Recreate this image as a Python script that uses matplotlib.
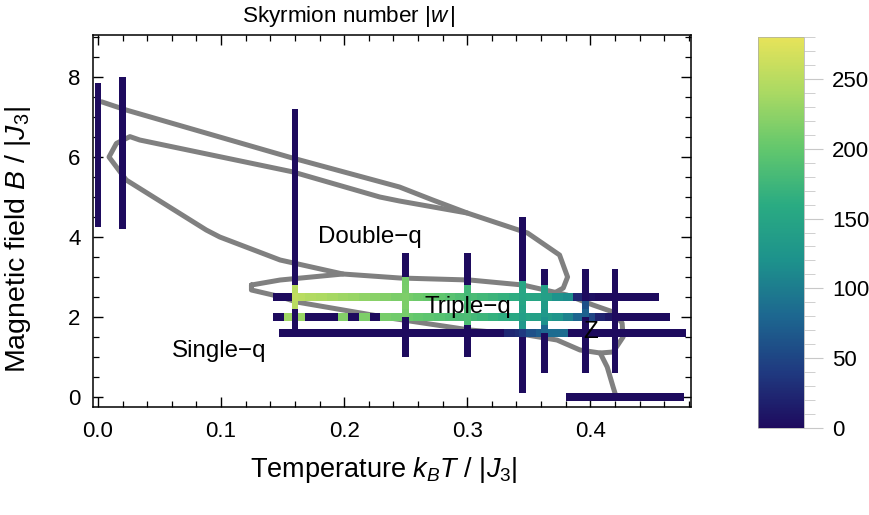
import numpy as np
import matplotlib
matplotlib.use("Agg")
import matplotlib.pyplot as plt
from matplotlib.colors import LinearSegmentedColormap, Normalize
from matplotlib.cm import ScalarMappable
from matplotlib.ticker import MultipleLocator, FormatStrFormatter

plt.rcParams['font.family'] = ['Liberation Sans', 'DejaVu Sans']
plt.rcParams['mathtext.fontset'] = 'custom'
plt.rcParams['mathtext.rm'] = 'Liberation Sans'
plt.rcParams['mathtext.it'] = 'Liberation Sans:italic'

# --- horizontal scans: fixed field B, temperature steps of dT ---
dT = 0.0087
row_B = [2.5, 2.0, 1.6, 0.0]
row_T0 = [0.1425, 0.1425, 0.147, 0.380]
row_w = [
    [0, 0, 250, 246, 242, 238, 234, 230, 226, 222, 218, 214, 210, 206, 202, 198,
     193, 188, 183, 178, 173, 168, 162, 156, 150, 140, 122, 115, 25, 5,
     0, 0, 0, 0, 0, 0],
    [0, 235, 230, 0, 0, 0, 218, 0, 215, 0, 212, 208, 204, 200, 196, 192, 188,
     184, 179, 174, 168, 162, 156, 150, 143, 135, 125, 105, 78, 50, 20, 10,
     0, 0, 0, 0, 0],
    [0] * 21 + [25, 30, 60, 70, 85, 85] + [0] * 11,
    [0] * 11,
]

# --- vertical scans: fixed temperature T, field steps of dB ---
dB = 0.2
col_T = [0.0, 0.02, 0.16, 0.25, 0.30, 0.345, 0.363, 0.396, 0.42]
col_B0 = [4.25, 4.2, 1.6, 1.0, 1.0, 0.1, 0.6, 0.6, 0.6]
col_w = [
    [0] * 18,
    [0] * 19,
    [0, 0, 0, 250, 255, 250] + [0] * 22,
    [0, 0, 0, 0, 0, 212, 215, 215, 212, 210, 0, 0, 0],
    [0, 0, 0, 0, 185, 185, 183, 180, 178, 0, 0, 0, 0],
    [0] * 7 + [40, 130, 140, 145, 150, 152, 150] + [0] * 8,
    [0, 0, 0, 0, 0, 80, 120, 130, 135, 140, 140, 0, 0],
    [0] * 7 + [75, 60] + [0] * 4,
    [0] * 13,
]

# --- phase boundaries ---
upper_T = [0.003, 0.023, 0.158, 0.245, 0.272, 0.300, 0.349, 0.375, 0.3815, 0.378, 0.372]
upper_B = [7.38, 7.175, 5.975, 5.25, 4.925, 4.6, 4.1, 3.55, 3.0, 2.725, 2.62]
inner_T = [0.300, 0.245, 0.229, 0.158, 0.034, 0.026, 0.015, 0.009, 0.023, 0.088, 0.099, 0.148, 0.199]
inner_B = [4.6, 4.9, 5.0, 5.63, 6.425, 6.51, 6.34, 6.0, 5.425, 4.175, 4.0, 3.425, 3.075]
triple_T = [0.1247, 0.148, 0.199, 0.2453, 0.3021, 0.3453, 0.381, 0.4022, 0.4185, 0.4258,
            0.4266, 0.4185, 0.408, 0.3916, 0.3729, 0.3486, 0.3021, 0.2371, 0.1615, 0.1477,
            0.1247, 0.1247]
triple_B = [2.8, 2.925, 3.075, 2.975, 2.925, 2.8, 2.55, 2.3, 2.125, 1.85, 1.5, 1.125, 1.1,
            1.175, 1.425, 1.55, 1.675, 1.975, 2.375, 2.51, 2.675, 2.8]
bottom_T = [0.408, 0.4137, 0.4185, 0.421]
bottom_B = [1.1, 0.75, 0.25, 0.0]

phase_labels = ['Double\u2212q', 'Triple\u2212q', 'Single\u2212q', 'Z']
phase_T = [0.1786, 0.265, 0.060, 0.394]
phase_B = [4.0, 2.25, 1.15, 1.62]

cmap = LinearSegmentedColormap.from_list(
    'sk', ['#1e0b5e', '#1f3a80', '#1d6790', '#1d928c', '#2aab82', '#62c76d', '#a9d963', '#e6e35a'])
norm = Normalize(0, 280)

fig = plt.figure(figsize=(8.7, 5.15), dpi=100)
ax = fig.add_axes([0.1069, 0.2097, 0.6874, 0.7223])

for T, B in [(upper_T, upper_B), (inner_T, inner_B), (triple_T, triple_B), (bottom_T, bottom_B)]:
    ax.plot(T, B, color='#808080', lw=3.6, solid_joinstyle='round', solid_capstyle='round', zorder=1)

for B, T0, w in zip(row_B, row_T0, row_w):
    w = np.array(w)
    left = T0 + dT * np.arange(len(w))
    ax.barh(B, dT, left=left, height=0.2, color=cmap(norm(w)), linewidth=0,
            antialiased=False, zorder=2)

for T, B0, w in zip(col_T, col_B0, col_w):
    w = np.array(w)
    bottom = B0 + dB * np.arange(len(w))
    ax.bar(T, dB, bottom=bottom, width=0.0055, color=cmap(norm(w)), linewidth=0,
           antialiased=False, zorder=3)

for s, T, B in zip(phase_labels, phase_T, phase_B):
    ax.text(T, B, s, fontsize=17.4, ha='left', va='center', zorder=5)

ax.set_xlim(-0.004, 0.4818)
ax.set_ylim(-0.25, 9.05)
ax.xaxis.set_major_locator(MultipleLocator(0.1))
ax.xaxis.set_minor_locator(MultipleLocator(0.02))
ax.xaxis.set_major_formatter(FormatStrFormatter('%.1f'))
ax.yaxis.set_major_locator(MultipleLocator(2))
ax.yaxis.set_minor_locator(MultipleLocator(0.5))
ax.tick_params(which='both', direction='in', top=True, right=True, labelsize=16)
ax.tick_params(which='major', length=7, width=1)
ax.tick_params(which='minor', length=4, width=0.9)
ax.tick_params(axis='x', pad=10)
ax.tick_params(axis='y', pad=9)
for sp in ax.spines.values():
    sp.set_linewidth(1.1)

ax.set_xlabel(r'Temperature $k_BT$ / $|J_3|$', fontsize=19.5)
ax.xaxis.set_label_coords(0.487, -0.128)
ax.set_ylabel(r'Magnetic field $B$ / $|J_3|$', fontsize=20.5)
ax.yaxis.set_label_coords(-0.1, 0.449)
fig.text(0.401, 0.967, r'Skyrmion number $|w\,|$', fontsize=16.2, ha='center', va='center')

cax = fig.add_axes([0.8713, 0.169, 0.0529, 0.759])
cb = fig.colorbar(ScalarMappable(norm=norm, cmap=cmap), cax=cax)
cb.outline.set_edgecolor('#aaaaaa')
cb.outline.set_linewidth(0.5)
cb.set_ticks([0, 50, 100, 150, 200, 250])
cax.yaxis.set_minor_locator(MultipleLocator(10))
cax.tick_params(which='major', length=14, color='#c8c8c8', labelsize=16, pad=6)
cax.tick_params(which='minor', length=8, color='#c8c8c8')

fig.savefig('out.png', dpi=100)
